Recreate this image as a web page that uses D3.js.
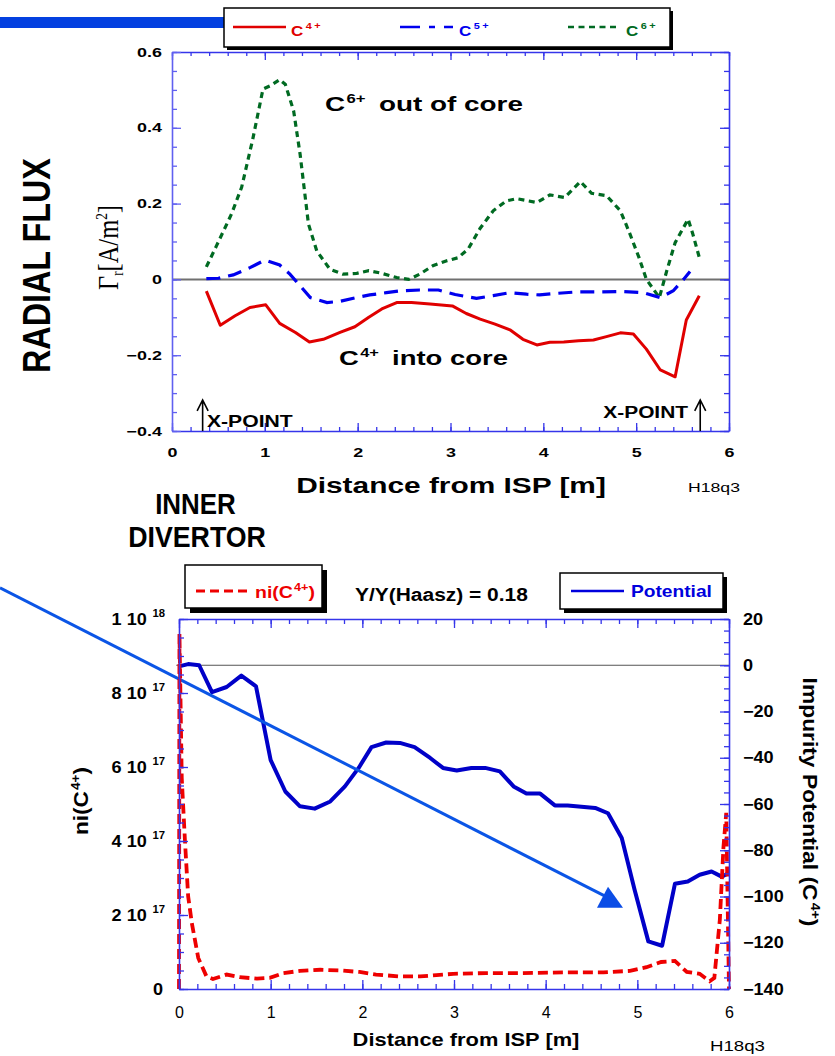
<!DOCTYPE html>
<html><head><meta charset="utf-8">
<script src="https://cdn.jsdelivr.net/npm/d3@7"></script>
<style>body{margin:0;background:#fff}svg{display:block}</style>
</head><body>
<svg id="c" width="835" height="1056"></svg>
<script>
// ---------------- DATA ----------------
const X_TICKS = [0, 1, 2, 3, 4, 5, 6];
const FLUX_TICKS = [-0.4, -0.2, 0, 0.2, 0.4, 0.6];
const NI_TICKS = [0, 2, 4, 6, 8, 10];           // units of 1e17
const POT_TICKS = [20, 0, -20, -40, -60, -80, -100, -120, -140];
const XPOINTS = [0.33, 5.69];

const c4X = [0.37,0.52,0.68,0.84,1.01,1.16,1.33,1.48,1.63,1.81,1.97,2.12,2.26,2.42,2.58,2.78,3.02,3.17,3.32,3.48,3.64,3.78,3.93,4.07,4.22,4.38,4.54,4.68,4.83,4.97,5.11,5.26,5.42,5.54,5.68];
const c4Flux = [-0.031,-0.121,-0.096,-0.074,-0.067,-0.116,-0.14,-0.165,-0.158,-0.14,-0.125,-0.10,-0.078,-0.061,-0.061,-0.065,-0.07,-0.09,-0.105,-0.118,-0.133,-0.158,-0.173,-0.166,-0.165,-0.162,-0.16,-0.151,-0.141,-0.144,-0.184,-0.239,-0.257,-0.107,-0.043];

const c5X = [0.37,0.5,0.66,0.84,1.0,1.16,1.27,1.38,1.49,1.67,1.81,1.97,2.13,2.31,2.46,2.67,2.87,3.05,3.28,3.46,3.64,3.82,3.96,4.14,4.36,4.61,4.86,5.08,5.26,5.40,5.51,5.58];
const c5Flux = [0.002,0.003,0.012,0.031,0.051,0.038,0.014,-0.017,-0.048,-0.061,-0.058,-0.049,-0.041,-0.035,-0.030,-0.028,-0.028,-0.040,-0.050,-0.043,-0.035,-0.039,-0.041,-0.037,-0.033,-0.033,-0.032,-0.035,-0.048,-0.030,0.0,0.021];

const c6X = [0.37,0.48,0.64,0.75,0.87,0.98,1.06,1.16,1.22,1.31,1.38,1.47,1.56,1.70,1.84,1.99,2.12,2.26,2.42,2.55,2.67,2.81,2.96,3.08,3.19,3.32,3.46,3.60,3.71,3.93,4.07,4.23,4.40,4.52,4.68,4.83,4.92,5.03,5.11,5.25,5.33,5.42,5.56,5.61,5.68];
const c6Flux = [0.033,0.089,0.172,0.243,0.37,0.502,0.511,0.527,0.515,0.445,0.33,0.146,0.075,0.027,0.014,0.016,0.023,0.016,0.005,0.0,0.014,0.036,0.049,0.057,0.08,0.135,0.181,0.207,0.213,0.203,0.223,0.216,0.258,0.227,0.221,0.181,0.128,0.058,0.0,-0.048,0.023,0.097,0.159,0.12,0.058];

const potX = [0,0.1,0.22,0.36,0.52,0.68,0.84,1.0,1.16,1.32,1.48,1.65,1.81,1.96,2.10,2.26,2.41,2.57,2.74,2.88,3.03,3.19,3.34,3.50,3.65,3.79,3.94,4.10,4.24,4.54,4.68,4.83,4.97,5.12,5.27,5.41,5.55,5.68,5.81,5.92,6.0];
const potVal = [-0.5,0.5,0,-11.6,-9.4,-4.5,-9.1,-41,-54.6,-61,-62,-58.9,-52.4,-44.4,-35.4,-33.4,-33.6,-35.4,-40.1,-44.4,-45.5,-44.4,-44.4,-45.9,-52.4,-55.5,-55.5,-60.6,-60.6,-61.7,-64,-74.7,-97.1,-119.4,-121.3,-94.5,-93.5,-90.6,-89.2,-91.4,-89.8];

const niX = [0,0.005,0.03,0.065,0.10,0.14,0.21,0.30,0.37,0.52,0.66,0.85,0.99,1.14,1.32,1.54,1.76,1.97,2.15,2.41,2.63,2.99,3.35,3.72,4.19,4.63,4.92,5.10,5.26,5.41,5.54,5.68,5.79,5.84,5.90,5.94,5.97,6.0];
const niVal = [0,9.6,5.7,4.0,2.5,1.78,0.84,0.34,0.27,0.39,0.32,0.28,0.30,0.43,0.49,0.52,0.50,0.46,0.39,0.34,0.34,0.41,0.43,0.43,0.45,0.45,0.49,0.59,0.73,0.76,0.46,0.41,0.21,0.30,1.87,3.85,4.76,0];

// annotation arrow (distance, potential)
const arrowStart = [-1.953, 33.5];
const arrowEnd = [4.68, -100.5];

// ---------------- SETUP ----------------
const svg = d3.select("#c");
const FONT = '"Liberation Sans", Arial, Helvetica, sans-serif';
const SERIF = '"Liberation Serif", "Times New Roman", serif';
const AX = "#3535ea";

function addText(o) {
  const t = svg.append("text")
    .attr("font-family", o.family || FONT)
    .attr("font-size", o.size)
    .attr("font-weight", o.weight || "bold")
    .attr("fill", o.fill || "#000")
    .attr("text-anchor", o.anchor || "start");
  (o.parts || [{t: o.text}]).forEach(p => {
    const s = t.append("tspan").text(p.t);
    if (p.size) s.attr("font-size", p.size);
    if (p.dy) s.attr("dy", p.dy);
    if (p.dx) s.attr("dx", p.dx);
    if (p.ls) s.attr("letter-spacing", p.ls);
  });
  let sx = o.sx || 1;
  if (o.len) { const w = t.node().getBBox().width; sx = o.len / w; }
  const sy = o.cross || 1;
  t.attr("transform", `translate(${o.x},${o.y}) rotate(${o.rot || 0}) scale(${sx},${sy})`);
  return t;
}

function tickAxis(gen, transform, values, size, domain, col) {
  const c = col || AX;
  const g = svg.append("g").attr("transform", transform)
    .call(gen.tickValues(values).tickSize(size).tickSizeOuter(0).tickFormat(""));
  g.selectAll(".tick line").attr("stroke", c).attr("stroke-width", 1.3);
  if (domain) g.select(".domain").attr("stroke", c).attr("stroke-width", 1.6);
  else g.select(".domain").remove();
  return g;
}

function labelAxis(gen, transform, values, pad, fmt, font, sx) {
  const g = svg.append("g").attr("transform", transform)
    .call(gen.tickValues(values).tickSize(0).tickPadding(pad).tickFormat(fmt));
  g.select(".domain").remove();
  g.selectAll(".tick line").remove();
  g.attr("font-family", FONT);
  g.selectAll(".tick text").each(function () {
    const t = d3.select(this);
    const x = +t.attr("x") || 0, y = +t.attr("y") || 0;
    t.attr("x", 0).attr("y", 0)
     .attr("font-size", font.size).attr("font-weight", font.weight).attr("fill", "#000")
     .attr("transform", `translate(${x},${y}) scale(${sx},1)`);
  });
  return g;
}

// ---------------- TOP CHART ----------------
const xT = d3.scaleLinear().domain([0, 6]).range([172, 729]);
const yT = d3.scaleLinear().domain([-0.4, 0.6]).range([431, 52]);

// blue header bar and legend box
svg.append("rect").attr("x", 0).attr("y", 17).attr("width", 230).attr("height", 11).attr("fill", "#0340e0");
svg.append("rect").attr("x", 227).attr("y", 11).attr("width", 446).attr("height", 39).attr("fill", "#000");
svg.append("rect").attr("x", 224).attr("y", 8).attr("width", 446).attr("height", 39).attr("fill", "#fff").attr("stroke", "#000").attr("stroke-width", 1.5);

// zero line
svg.append("line").attr("x1", xT(0)).attr("x2", xT(6)).attr("y1", yT(0)).attr("y2", yT(0))
  .attr("stroke", "#707070").attr("stroke-width", 2);

const lineT = d3.line().x(d => xT(d[0])).y(d => yT(d[1]));
svg.append("path").datum(d3.zip(c6X, c6Flux)).attr("d", lineT)
  .attr("fill", "none").attr("stroke", "#006a22").attr("stroke-width", 3.2).attr("stroke-dasharray", "6,4.5");
svg.append("path").datum(d3.zip(c5X, c5Flux)).attr("d", lineT)
  .attr("fill", "none").attr("stroke", "#0000ee").attr("stroke-width", 3.2).attr("stroke-dasharray", "14,8");
svg.append("path").datum(d3.zip(c4X, c4Flux)).attr("d", lineT)
  .attr("fill", "none").attr("stroke", "#e00000").attr("stroke-width", 3).attr("stroke-linejoin", "round");

// axes (inward ticks)
tickAxis(d3.axisBottom(xT), `translate(0,${yT(-0.4)})`, d3.range(0, 6.0001, 0.2), -4, true);
tickAxis(d3.axisBottom(xT), `translate(0,${yT(-0.4)})`, X_TICKS, -8, false);
tickAxis(d3.axisTop(xT), `translate(0,${yT(0.6)})`, d3.range(0, 6.0001, 0.2), -4, true);
tickAxis(d3.axisTop(xT), `translate(0,${yT(0.6)})`, X_TICKS, -8, false);
tickAxis(d3.axisLeft(yT), `translate(${xT(0)},0)`, d3.range(-0.4, 0.6001, 0.05), -5, true, "#6060f0");
tickAxis(d3.axisLeft(yT), `translate(${xT(0)},0)`, FLUX_TICKS, -9, false, "#6060f0");
tickAxis(d3.axisRight(yT), `translate(${xT(6)},0)`, d3.range(-0.4, 0.6001, 0.05), -5, true);
tickAxis(d3.axisRight(yT), `translate(${xT(6)},0)`, FLUX_TICKS, -9, false);

labelAxis(d3.axisLeft(yT), `translate(${xT(0)},0)`, FLUX_TICKS, 10, d3.format(".1~f"), {size: 13, weight: "bold"}, 1.38);
labelAxis(d3.axisBottom(xT), `translate(0,${yT(-0.4)})`, X_TICKS, 17, d3.format("d"), {size: 13, weight: "bold"}, 1.38);

// X-POINT arrows
XPOINTS.forEach(xp => {
  const px = xT(xp), y0 = yT(-0.4), y1 = yT(-0.318);
  svg.append("path").attr("d", `M${px},${y0}V${y1}M${px - 5.5},${y1 + 11}L${px},${y1}L${px + 5.5},${y1 + 11}`)
    .attr("fill", "none").attr("stroke", "#000").attr("stroke-width", 1.6);
});
addText({x: 207, y: 427, size: 16, len: 86, text: "X-POINT"});
addText({x: 688, y: 418, size: 16, len: 85, anchor: "end", text: "X-POINT"});

// annotations
addText({x: 325, y: 111, size: 20, len: 198, parts: [{t: "C"}, {t: "6+", size: 12, dy: -8, dx: 1}, {t: "  out of core", dy: 8, dx: 4}]});
addText({x: 339, y: 365, size: 20, len: 169, parts: [{t: "C"}, {t: "4+", size: 12, dy: -8, dx: 1}, {t: "  into core", dy: 8, dx: 4}]});

// legend
const legT = [
  {x1: 233, x2: 286, tx: 291, col: "#e00000", dash: null, sup: "4+"},
  {x1: 400, x2: 453, tx: 459, col: "#0000ee", dash: "20,9,6,9", sup: "5+"},
  {x1: 568, x2: 620, tx: 626, col: "#006a22", dash: "6,4.5", sup: "6+"}
];
legT.forEach(l => {
  const ln = svg.append("line").attr("x1", l.x1).attr("x2", l.x2).attr("y1", 27).attr("y2", 27)
    .attr("stroke", l.col).attr("stroke-width", 2.6);
  if (l.dash) ln.attr("stroke-dasharray", l.dash);
  addText({x: l.tx, y: 36, size: 14, len: 32, fill: l.col, parts: [{t: "C"}, {t: l.sup, size: 9, dy: -7, dx: 2, ls: 2}]});
});

// axis titles
addText({x: 50, y: 373, rot: -90, size: 39, len: 215, text: "RADIAL FLUX"});
addText({x: 118, y: 290, rot: -90, size: 24, len: 85, cross: 1.25, family: SERIF, weight: "normal",
  parts: [{t: "Γ"}, {t: "r", size: 13, dy: 4}, {t: "[A/m", dy: -4}, {t: "2", size: 13, dy: -9}, {t: "]", dy: 9}]});
addText({x: 451, y: 493, size: 22, len: 310, anchor: "middle", text: "Distance from ISP [m]"});
addText({x: 688, y: 492, size: 13, len: 52, weight: "normal", text: "H18q3"});
addText({x: 195.5, y: 514, size: 30, len: 81, anchor: "middle", text: "INNER"});
addText({x: 197, y: 547, size: 30, len: 138, anchor: "middle", text: "DIVERTOR"});

// ---------------- BOTTOM CHART ----------------
const xB = d3.scaleLinear().domain([0, 6]).range([179, 729]);
const yN = d3.scaleLinear().domain([0, 10]).range([989, 619]);
const yP = d3.scaleLinear().domain([-140, 20]).range([989, 619]);

// legends
svg.append("rect").attr("x", 190).attr("y", 570).attr("width", 137).attr("height", 43).attr("fill", "#000");
svg.append("rect").attr("x", 185).attr("y", 565).attr("width", 137).attr("height", 43).attr("fill", "#fff").attr("stroke", "#000").attr("stroke-width", 1.5);
svg.append("line").attr("x1", 196).attr("x2", 250).attr("y1", 591).attr("y2", 591)
  .attr("stroke", "#ee0000").attr("stroke-width", 3).attr("stroke-dasharray", "9,5");
addText({x: 255, y: 598, size: 17, len: 60, fill: "#ee0000", parts: [{t: "ni(C"}, {t: "4+", size: 11, dy: -7, dx: 1}, {t: ")", dy: 7}]});

addText({x: 355, y: 601, size: 18, len: 173, text: "Y/Y(Haasz) = 0.18"});

svg.append("rect").attr("x", 564).attr("y", 577).attr("width", 163).attr("height", 36).attr("fill", "#000");
svg.append("rect").attr("x", 560).attr("y", 573).attr("width", 163).attr("height", 36).attr("fill", "#fff").attr("stroke", "#000").attr("stroke-width", 1.5);
svg.append("line").attr("x1", 571).attr("x2", 624).attr("y1", 591).attr("y2", 591)
  .attr("stroke", "#0000dd").attr("stroke-width", 2.6);
addText({x: 631, y: 597, size: 17, len: 81, fill: "#0000dd", text: "Potential"});

// zero potential line
svg.append("line").attr("x1", xB(-0.03)).attr("x2", xB(6)).attr("y1", yP(0)).attr("y2", yP(0))
  .attr("stroke", "#555").attr("stroke-width", 1.2);

// potential
const lineP = d3.line().x(d => xB(d[0])).y(d => yP(d[1]));
svg.append("path").datum(d3.zip(potX, potVal)).attr("d", lineP)
  .attr("fill", "none").attr("stroke", "#0000c8").attr("stroke-width", 4).attr("stroke-linejoin", "round");

// arrow annotation
const aS = [xB(arrowStart[0]), yP(arrowStart[1])], aE = [xB(arrowEnd[0]), yP(arrowEnd[1])];
svg.append("line").attr("x1", aS[0]).attr("y1", aS[1]).attr("x2", aE[0]).attr("y2", aE[1])
  .attr("stroke", "#0b55e6").attr("stroke-width", 3);
svg.append("path").attr("d", `M${aE[0]},${aE[1] - 11}L${aE[0] - 11},${aE[1] + 10}L${aE[0] + 15},${aE[1] + 10}Z`)
  .attr("fill", "#0b4de6");

// ni
const lineN = d3.line().x(d => xB(d[0])).y(d => yN(d[1]));
svg.append("path").datum(d3.zip(niX, niVal)).attr("d", lineN)
  .attr("fill", "none").attr("stroke", "#ee0000").attr("stroke-width", 3.8).attr("stroke-dasharray", "10,5");

// axes
tickAxis(d3.axisBottom(xB), `translate(0,${yN(0)})`, d3.range(0, 6.0001, 0.2), -5, true);
tickAxis(d3.axisBottom(xB), `translate(0,${yN(0)})`, X_TICKS, -9, false);
tickAxis(d3.axisTop(xB), `translate(0,${yN(10)})`, d3.range(0, 6.0001, 0.2), -5, true);
tickAxis(d3.axisTop(xB), `translate(0,${yN(10)})`, X_TICKS, -9, false);
tickAxis(d3.axisLeft(yN), `translate(${xB(0)},0)`, d3.range(0, 10.001, 0.5), -5, true);
tickAxis(d3.axisLeft(yN), `translate(${xB(0)},0)`, NI_TICKS, -9, false);
tickAxis(d3.axisRight(yP), `translate(${xB(6)},0)`, d3.range(-140, 20.001, 5), -5, true);
tickAxis(d3.axisRight(yP), `translate(${xB(6)},0)`, [20, 0, -20, -40, -60, -80, -100, -120, -140], -9, false);

labelAxis(d3.axisBottom(xB), `translate(0,${yN(0)})`, X_TICKS, 17.5, d3.format("d"), {size: 16, weight: "normal"}, 1);
labelAxis(d3.axisRight(yP), `translate(${xB(6)},0)`, POT_TICKS, 14, d3.format("d"), {size: 16, weight: "bold"}, 1.13);
const niLab = labelAxis(d3.axisLeft(yN), `translate(${xB(0)},0)`, NI_TICKS, 14, d => "", {size: 16, weight: "bold"}, 1.13);
niLab.selectAll(".tick text").each(function (d) {
  const t = d3.select(this);
  if (d === 0) { t.append("tspan").text("0"); t.attr("transform", t.attr("transform").replace("translate(-14", "translate(-16")); return; }
  const main = d === 10 ? "1 10" : `${d} 10`;
  const sup = d === 10 ? "18" : "17";
  t.append("tspan").text(main);
  t.append("tspan").text(sup).attr("font-size", 10).attr("dx", 5).attr("dy", -8);
});

// axis titles
addText({x: 88, y: 801, rot: -90, size: 20, len: 68, anchor: "middle",
  parts: [{t: "ni(C"}, {t: "4+", size: 12, dy: -8, dx: 1}, {t: ")", dy: 8}]});
addText({x: 803, y: 802, rot: 90, size: 21, len: 249, anchor: "middle",
  parts: [{t: "Impurity  Potential  (C"}, {t: "4+", size: 13, dy: -8, dx: 2}, {t: ")", dy: 8}]});
addText({x: 466, y: 1046, size: 18, len: 227, anchor: "middle", text: "Distance from ISP [m]"});
addText({x: 710, y: 1051, size: 15, len: 55, weight: "normal", text: "H18q3"});
</script>
</body></html>
